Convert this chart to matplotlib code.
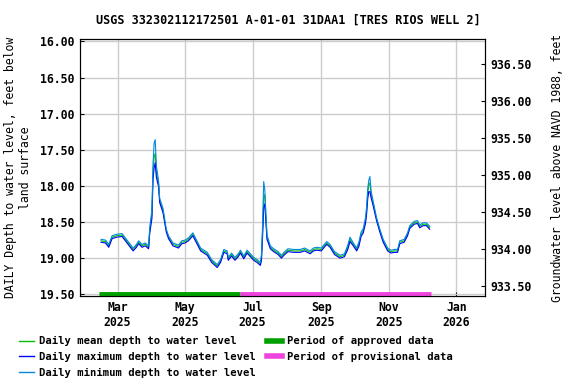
import numpy as np
import pandas as pd
import matplotlib
matplotlib.use('Agg')
import matplotlib.pyplot as plt
import matplotlib.dates as mdates

# days after 2025-03-01, depth to water (ft below land surface)
days = [-15, -11, -8, -5, -1, 4, 8, 14, 17, 19, 22, 25, 28, 29, 31, 32, 33, 34, 35, 37,
        38, 41, 44, 46, 50, 55, 58, 61, 64, 68, 71, 75, 81, 85, 90, 93, 96, 99, 100, 103,
        106, 109, 111, 114, 117, 120, 123, 126, 129, 130, 131, 132, 133, 134, 135, 138, 141, 145, 148, 151,
        154, 159, 165, 169, 174, 177, 180, 184, 189, 192, 196, 201, 205, 208, 210, 213, 216, 218, 220, 222,
        224, 225, 226, 227, 228, 229, 231, 234, 237, 240, 244, 247, 250, 253, 255, 259, 262, 264, 268, 271,
        273, 276, 279, 282]

mean_depth = [18.76, 18.77, 18.83, 18.71, 18.69, 18.68, 18.76, 18.88, 18.83, 18.78, 18.83, 18.81, 18.85, 18.62, 18.39, 17.79, 17.60, 17.55, 17.80, 17.97,
              18.20, 18.34, 18.62, 18.71, 18.81, 18.84, 18.78, 18.77, 18.74, 18.67, 18.76, 18.88, 18.94, 19.04, 19.11, 19.04, 18.90, 18.92, 19.01, 18.95,
              19.01, 18.96, 18.91, 18.99, 18.91, 18.96, 19.01, 19.04, 19.08, 18.99, 18.62, 18.16, 18.12, 18.44, 18.71, 18.85, 18.89, 18.93, 18.98, 18.93,
              18.89, 18.90, 18.90, 18.88, 18.92, 18.88, 18.87, 18.88, 18.79, 18.83, 18.93, 18.98, 18.96, 18.85, 18.74, 18.81, 18.88, 18.81, 18.67, 18.62,
              18.48, 18.34, 18.11, 17.98, 17.96, 18.11, 18.25, 18.46, 18.62, 18.76, 18.88, 18.91, 18.90, 18.90, 18.78, 18.76, 18.67, 18.57, 18.51, 18.50,
              18.56, 18.53, 18.53, 18.58]

max_depth = [18.78, 18.79, 18.85, 18.73, 18.71, 18.70, 18.78, 18.90, 18.85, 18.80, 18.85, 18.83, 18.87, 18.66, 18.45, 17.90, 17.75, 17.68, 17.88, 18.01,
             18.23, 18.37, 18.64, 18.73, 18.83, 18.86, 18.80, 18.79, 18.76, 18.69, 18.78, 18.90, 18.96, 19.06, 19.13, 19.06, 18.92, 18.94, 19.03, 18.97,
             19.03, 18.98, 18.93, 19.01, 18.93, 18.98, 19.03, 19.06, 19.10, 19.03, 18.70, 18.30, 18.25, 18.50, 18.74, 18.87, 18.91, 18.95, 19.00, 18.95,
             18.91, 18.92, 18.92, 18.90, 18.94, 18.90, 18.89, 18.90, 18.81, 18.85, 18.95, 19.00, 18.98, 18.88, 18.77, 18.83, 18.90, 18.84, 18.70, 18.65,
             18.52, 18.39, 18.18, 18.08, 18.08, 18.16, 18.28, 18.48, 18.64, 18.78, 18.90, 18.93, 18.92, 18.92, 18.80, 18.78, 18.69, 18.59, 18.53, 18.52,
             18.58, 18.55, 18.55, 18.60]

min_depth = [18.74, 18.75, 18.81, 18.69, 18.67, 18.66, 18.74, 18.86, 18.81, 18.76, 18.81, 18.79, 18.83, 18.58, 18.33, 17.70, 17.40, 17.36, 17.72, 17.93,
             18.17, 18.31, 18.60, 18.69, 18.79, 18.82, 18.76, 18.75, 18.72, 18.65, 18.74, 18.86, 18.92, 19.02, 19.09, 19.02, 18.88, 18.90, 18.99, 18.93,
             18.99, 18.94, 18.89, 18.97, 18.89, 18.94, 18.99, 19.02, 19.06, 18.95, 18.55, 17.94, 18.05, 18.38, 18.68, 18.83, 18.87, 18.91, 18.96, 18.91,
             18.87, 18.88, 18.88, 18.86, 18.90, 18.86, 18.85, 18.86, 18.77, 18.81, 18.91, 18.96, 18.94, 18.82, 18.71, 18.79, 18.86, 18.78, 18.64, 18.59,
             18.44, 18.29, 18.04, 17.92, 17.87, 18.06, 18.22, 18.44, 18.60, 18.74, 18.86, 18.89, 18.88, 18.88, 18.76, 18.74, 18.65, 18.55, 18.49, 18.48,
             18.54, 18.51, 18.51, 18.56]

approved_period = ['2025-02-12', '2025-06-20']
provisional_period = ['2025-06-20', '2025-12-09']

title = 'USGS 332302112172501 A-01-01 31DAA1 [TRES RIOS WELL 2]'

plt.rcParams['font.family'] = 'DejaVu Sans Mono'
plt.rcParams['font.weight'] = 'bold'
plt.rcParams['font.size'] = 8.3

dates = pd.Timestamp('2025-03-01') + pd.to_timedelta(days, unit='D')

fig = plt.figure(figsize=(5.76, 3.84), dpi=100)
ax = fig.add_axes([80/576, 1 - 295.7/384, 405/576, 256.4/384])

ax.plot(dates, mean_depth, color='#00c000', lw=0.8, label='Daily mean depth to water level', zorder=3)
ax.plot(dates, max_depth, color='#0000ff', lw=0.8, label='Daily maximum depth to water level', zorder=3)
ax.plot(dates, min_depth, color='#0088dd', lw=0.8, label='Daily minimum depth to water level', zorder=3)

ax.plot(pd.to_datetime(approved_period), [19.49, 19.49], color='#00a000', lw=3.5,
        solid_capstyle='butt', label='Period of approved data', zorder=4)
ax.plot(pd.to_datetime(provisional_period), [19.49, 19.49], color='#ee44dd', lw=3.5,
        solid_capstyle='butt', label='Period of provisional data', zorder=4)

ax.set_ylim(19.52, 15.97)
ax.set_yticks(np.arange(16.0, 19.51, 0.5))
ax.yaxis.set_major_formatter(plt.FormatStrFormatter('%.2f'))
ax.set_xlim(pd.Timestamp('2025-01-26'), pd.Timestamp('2026-01-27'))
ax.xaxis.set_major_locator(mdates.MonthLocator(bymonth=[1, 3, 5, 7, 9, 11]))
ax.xaxis.set_major_formatter(mdates.DateFormatter('%b\n%Y'))
ax.grid(True, color='#cccccc', lw=1)
ax.tick_params(direction='in', length=3, pad=4)
ax.set_ylabel('DAILY Depth to water level, feet below\nland surface', labelpad=6)

ax2 = ax.twinx()
ax2.set_ylim(933.369, 936.838)
ax2.set_yticks(np.arange(933.5, 936.51, 0.5))
ax2.yaxis.set_major_formatter(plt.FormatStrFormatter('%.2f'))
ax2.tick_params(direction='in', length=3, pad=4)
ax2.set_ylabel('Groundwater level above NAVD 1988, feet', labelpad=14)

fig.suptitle(title, x=0.5, y=0.965, fontsize=8.5, fontweight='bold')

h1, l1 = ax.get_legend_handles_labels()
leg_lines = [plt.Line2D([], [], color=h.get_color(), lw=(1 if i < 3 else 4)) for i, h in enumerate(h1)]
fig.legend(leg_lines, l1, loc='upper left', bbox_to_anchor=(0.023, 0.138), ncol=2, frameon=False,
           handlelength=1.5, handletextpad=0.47, columnspacing=1.0, labelspacing=0.55,
           borderpad=0, fontsize=7.6)

fig.savefig('out.png', dpi=100)
